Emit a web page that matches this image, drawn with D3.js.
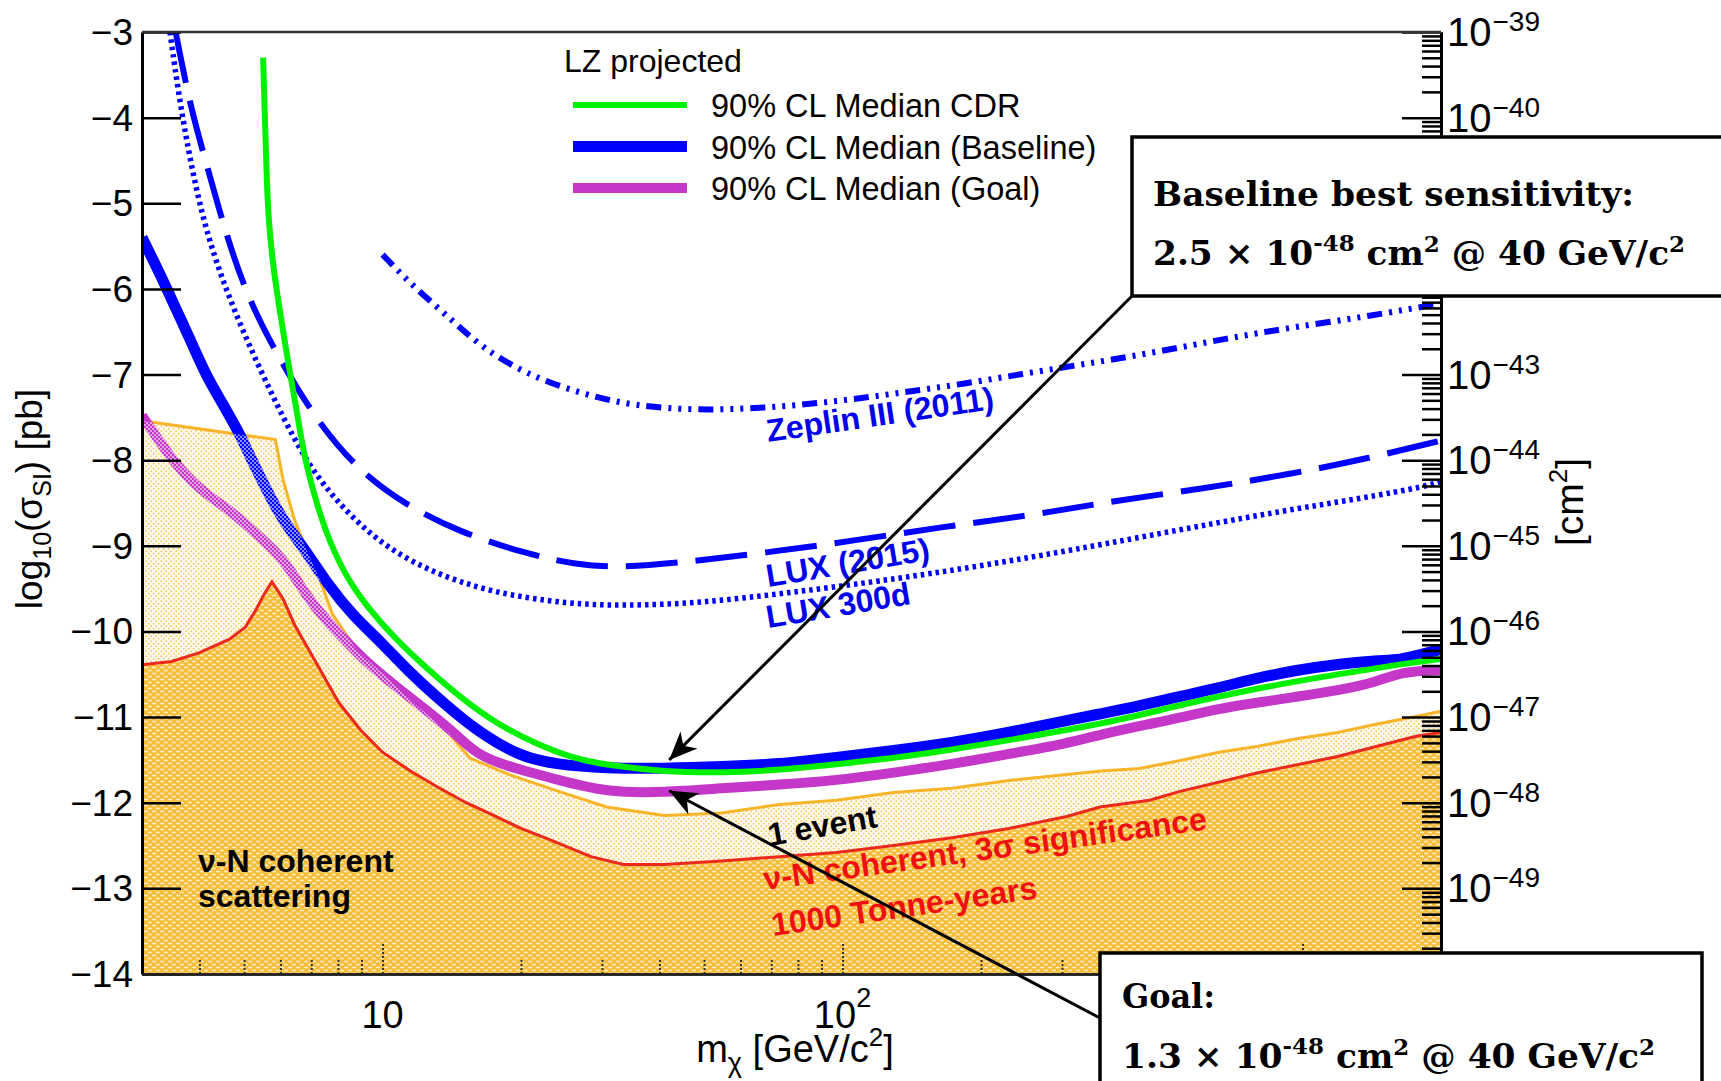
<!DOCTYPE html>
<html>
<head>
<meta charset="utf-8">
<script src="https://cdn.jsdelivr.net/npm/d3@7"></script>
<style>
  body { margin: 0; background: #fff; }
  text { font-family: "Liberation Sans", Arial, Helvetica, sans-serif; }
</style>
</head>
<body>
<svg id="svg" width="1721" height="1081"></svg>
<script>
// masses in GeV/c^2, cross sections as log10(sigma / pb)
var cdrCurve = [[5.5,-3.3],[5.55,-4.0],[5.6,-4.7],[5.65,-5.2],[5.8,-5.8],[6.0,-6.3],[6.25,-6.9],[6.5,-7.4],[6.75,-7.95],[7.1,-8.4],[7.5,-8.82],[8.2,-9.3],[9.2,-9.7],[10.8,-10.12],[12.6,-10.45],[14.6,-10.75],[17.7,-11.08],[21.5,-11.31],[25.9,-11.48],[30.7,-11.56],[41,-11.64],[55,-11.65],[73,-11.62],[97,-11.55],[129,-11.48],[173,-11.38],[230,-11.27],[307,-11.15],[370,-11.07],[465,-10.95],[540,-10.86],[800,-10.66],[1190,-10.5],[1640,-10.38],[2000,-10.32]];

var baselineCurve = [[3.0,-5.4],[3.3,-5.85],[3.56,-6.24],[3.84,-6.62],[4.14,-7.02],[4.56,-7.4],[4.9,-7.7],[5.2,-8.0],[5.6,-8.35],[6.1,-8.72],[6.8,-9.05],[7.6,-9.45],[8.6,-9.81],[10,-10.14],[11.6,-10.51],[13.6,-10.84],[16.1,-11.17],[19.9,-11.46],[23.6,-11.55],[30.7,-11.6],[41,-11.6],[54.6,-11.58],[72.8,-11.55],[97,-11.47],[129,-11.39],[173,-11.3],[230,-11.18],[307,-11.04],[365,-10.96],[442,-10.87],[539,-10.76],[658,-10.66],[800,-10.54],[977,-10.45],[1192,-10.38],[1452,-10.34],[1638,-10.33],[1775,-10.28],[2000,-10.21]];

var goalCurve = [[3.0,-7.48],[3.29,-7.8],[3.69,-8.16],[4.14,-8.4],[4.65,-8.58],[5.22,-8.82],[5.85,-9.06],[6.33,-9.29],[6.81,-9.57],[7.51,-9.86],[8.26,-10.09],[9.26,-10.37],[10.8,-10.66],[12.6,-10.94],[14.6,-11.22],[16.1,-11.45],[19.4,-11.6],[23.6,-11.72],[30.7,-11.88],[41,-11.88],[54.6,-11.83],[72.8,-11.79],[97,-11.74],[129,-11.65],[173,-11.55],[230,-11.43],[307,-11.31],[365,-11.2],[465,-11.08],[539,-11.01],[658,-10.9],[800,-10.83],[977,-10.76],[1192,-10.69],[1452,-10.59],[1638,-10.47],[2000,-10.45]];

var oneEventTop = [[3.0,-7.54],[5.85,-7.76],[6.08,-8.23],[6.44,-8.7],[6.81,-9.03],[7.33,-9.41],[7.77,-9.79],[8.76,-10.21],[10.0,-10.49],[11.9,-10.87],[14.0,-11.2],[15.5,-11.48],[18.8,-11.67],[23.6,-11.85],[30.7,-12.05],[41,-12.15],[54.6,-12.12],[72.8,-12.02],[97,-11.97],[129,-11.88],[173,-11.83],[230,-11.74],[307,-11.67],[365,-11.63],[442,-11.6],[539,-11.51],[658,-11.41],[800,-11.34],[977,-11.25],[1192,-11.18],[1452,-11.08],[1775,-10.99],[2000,-10.93]];

var nuFloor = [[3.0,-10.39],[3.48,-10.35],[3.99,-10.25],[4.65,-10.09],[5.03,-9.95],[5.29,-9.76],[5.55,-9.55],[5.75,-9.42],[6.08,-9.62],[6.45,-9.93],[7.2,-10.38],[8.03,-10.83],[8.96,-11.15],[10,-11.41],[11.5,-11.63],[13.2,-11.82],[15.2,-12.0],[17.3,-12.14],[20,-12.3],[22.8,-12.42],[28.4,-12.63],[33.4,-12.72],[41,-12.72],[54.6,-12.68],[72.8,-12.63],[97,-12.58],[129,-12.5],[173,-12.41],[230,-12.3],[307,-12.16],[363,-12.05],[465,-11.97],[539,-11.87],[800,-11.65],[1192,-11.46],[1452,-11.34],[1775,-11.22],[2000,-11.18]];

var lux2015 = [[3.55,-3.0],[3.83,-3.9],[4.16,-4.57],[4.56,-5.35],[5.11,-6.13],[6.08,-6.9],[7.33,-7.6],[8.96,-8.14],[11.2,-8.52],[14.7,-8.84],[20.4,-9.09],[26.8,-9.23],[32.9,-9.25],[44,-9.2],[68,-9.08],[106,-8.94],[164,-8.78],[254,-8.65],[363,-8.5],[611,-8.33],[946,-8.16],[1389,-7.98],[2000,-7.77]];

var lux300d = [[3.45,-3.0],[3.62,-3.8],[3.84,-4.57],[4.14,-5.35],[4.65,-6.13],[5.42,-6.95],[6.4,-7.75],[7.4,-8.3],[9.47,-8.91],[12.45,-9.29],[17.3,-9.55],[25.4,-9.68],[33.4,-9.7],[48.9,-9.67],[75.9,-9.55],[118,-9.42],[204,-9.23],[363,-8.99],[800,-8.64],[1192,-8.49],[1775,-8.33],[2000,-8.25]];

var zeplin2011 = [[10,-5.6],[11.6,-5.96],[14,-6.34],[16.4,-6.68],[20.4,-6.99],[26.8,-7.22],[35.3,-7.37],[49,-7.42],[68,-7.39],[95,-7.32],[131,-7.22],[183,-7.11],[254,-6.98],[353,-6.86],[489,-6.73],[681,-6.58],[946,-6.45],[1389,-6.32],[2000,-6.17]];

var yTicks = [-3,-4,-5,-6,-7,-8,-9,-10,-11,-12,-13,-14];
var cmExponents = [-39,-40,-41,-42,-43,-44,-45,-46,-47,-48,-49,-50];
var cmLabelled = [-39,-40,-43,-44,-45,-46,-47,-48,-49];   // the rest sit under the boxes
var xTicks = [10, 100, 1000];
var xLabelled = [10, 100];
var xTickExp = ["", "2"];

var legendLabels = ["90% CL Median CDR", "90% CL Median (Baseline)", "90% CL Median (Goal)"];
var legendColors = ["#00f000", "#0000ff", "#c537c8"];
var legendWidths = [6, 11, 10];

var baselineTip = [42, -11.5];
var goalTip = [42, -11.86];

var svg = d3.select("#svg");
var x = d3.scaleLog().domain([3, 2000]).range([142, 1441]);
var y = d3.scaleLinear().domain([-14, -3]).range([974, 32]);
var yCm = d3.scaleLog().domain([1e-50, 1e-39]).range([974, 32]);

var defs = svg.append("defs");
defs.append("clipPath").attr("id", "plotClip").append("rect")
  .attr("x", 142).attr("y", 32).attr("width", 1299).attr("height", 942);

var pl = defs.append("pattern").attr("id", "lightFill").attr("patternUnits", "userSpaceOnUse")
  .attr("width", 5).attr("height", 5);
pl.append("rect").attr("width", 5).attr("height", 5).attr("fill", "#fffaf0");
pl.append("circle").attr("cx", 1.2).attr("cy", 1.2).attr("r", 0.85).attr("fill", "#f7c552");
pl.append("circle").attr("cx", 3.7).attr("cy", 3.7).attr("r", 0.85).attr("fill", "#f7c552");

var pd = defs.append("pattern").attr("id", "darkFill").attr("patternUnits", "userSpaceOnUse")
  .attr("width", 8).attr("height", 6);
pd.append("rect").attr("width", 8).attr("height", 6).attr("fill", "#f5bd38");
pd.append("ellipse").attr("cx", 2).attr("cy", 1.5).attr("rx", 2.3).attr("ry", 0.9).attr("fill", "#fff").attr("opacity", 0.7);
pd.append("ellipse").attr("cx", 6).attr("cy", 4.5).attr("rx", 2.3).attr("ry", 0.9).attr("fill", "#fff").attr("opacity", 0.7);

var pw = defs.append("pattern").attr("id", "whiteDots").attr("patternUnits", "userSpaceOnUse")
  .attr("width", 4).attr("height", 4);
pw.append("circle").attr("cx", 1).attr("cy", 1).attr("r", 0.9).attr("fill", "#fff").attr("opacity", 0.8);
pw.append("circle").attr("cx", 3).attr("cy", 3).attr("r", 0.9).attr("fill", "#fff").attr("opacity", 0.8);

defs.append("marker").attr("id", "arrow").attr("markerUnits", "userSpaceOnUse")
  .attr("viewBox", "-30 -15 32 30").attr("refX", 0).attr("refY", 0)
  .attr("markerWidth", 32).attr("markerHeight", 30).attr("orient", "auto")
  .append("path").attr("d", "M0,0 L-28,-12 L-20,0 L-28,12 Z").attr("fill", "#000");

var line = d3.line().x(function(d) { return x(d[0]); }).y(function(d) { return y(d[1]); });
var smooth = d3.line().x(function(d) { return x(d[0]); }).y(function(d) { return y(d[1]); })
  .curve(d3.curveBasis);

var band = oneEventTop.concat(nuFloor.slice().reverse());
defs.append("clipPath").attr("id", "bandClip").append("path").attr("d", line(band) + "Z");

var plot = svg.append("g").attr("clip-path", "url(#plotClip)");

// regions
plot.append("path").attr("d", line(oneEventTop.concat([[2000, -14], [3, -14]])) + "Z")
  .attr("fill", "url(#lightFill)");
plot.append("path").attr("d", line(nuFloor.concat([[2000, -14], [3, -14]])) + "Z")
  .attr("fill", "url(#darkFill)");
plot.append("path").attr("d", line(oneEventTop)).attr("fill", "none")
  .attr("stroke", "#f8b52a").attr("stroke-width", 3);
plot.append("path").attr("d", line(nuFloor)).attr("fill", "none")
  .attr("stroke", "#ec2a1c").attr("stroke-width", 3);

// previous results
plot.append("path").attr("d", smooth(lux2015)).attr("fill", "none")
  .attr("stroke", "#0000ff").attr("stroke-width", 6).attr("stroke-dasharray", "52,18");
plot.append("path").attr("d", smooth(lux300d)).attr("fill", "none")
  .attr("stroke", "#0000ff").attr("stroke-width", 5.5).attr("stroke-dasharray", "3.5,4");
plot.append("path").attr("d", smooth(zeplin2011)).attr("fill", "none")
  .attr("stroke", "#0000ff").attr("stroke-width", 6).attr("stroke-dasharray", "15,7,3,7,3,7,3,7");

// LZ projections
plot.append("path").attr("d", smooth(goalCurve)).attr("fill", "none")
  .attr("stroke", legendColors[2]).attr("stroke-width", legendWidths[2]);
plot.append("path").attr("d", smooth(baselineCurve)).attr("fill", "none")
  .attr("stroke", legendColors[1]).attr("stroke-width", legendWidths[1]);
plot.append("path").attr("d", smooth(cdrCurve)).attr("fill", "none")
  .attr("stroke", legendColors[0]).attr("stroke-width", legendWidths[0]);

var hatch = plot.append("g").attr("clip-path", "url(#bandClip)");
[goalCurve, baselineCurve].forEach(function(c, i) {
  hatch.append("path").attr("d", smooth(c)).attr("fill", "none")
    .attr("stroke", "url(#whiteDots)").attr("stroke-width", legendWidths[2 - i]);
});

// axes
var left = svg.append("g").attr("transform", "translate(142,0)");
left.call(d3.axisRight(y).tickValues(d3.range(0, 56).map(function(i) { return -14 + i * 0.2; }))
  .tickSize(20).tickSizeOuter(0).tickFormat(""));
left.call(d3.axisRight(y).tickValues(yTicks).tickSize(39).tickSizeOuter(0).tickFormat(""));
left.selectAll("line").attr("stroke", "#000").attr("stroke-width", 2.5);
left.selectAll(".domain").attr("stroke", "#000").attr("stroke-width", 3);

var minorCm = [];
cmExponents.slice(1).forEach(function(e) {
  for (var k = 2; k <= 9; k++) minorCm.push(k * Math.pow(10, e));
});
var right = svg.append("g").attr("transform", "translate(1441,0)");
right.append("g").call(d3.axisLeft(yCm).tickValues(minorCm).tickSize(19).tickSizeOuter(0).tickFormat(""));
right.append("g").call(d3.axisLeft(yCm).tickValues(cmExponents.map(function(e) { return Math.pow(10, e); }))
  .tickSize(39).tickSizeOuter(0).tickFormat(""));
right.selectAll("line").attr("stroke", "#000").attr("stroke-width", 2.5);
right.selectAll(".domain").attr("stroke", "#000").attr("stroke-width", 3);

var minorX = [4,5,6,7,8,9,20,30,40,50,60,70,80,90,200,300,400,500,600,700,800,900,2000];
var bottom = svg.append("g").attr("transform", "translate(0,974)");
bottom.append("g").call(d3.axisTop(x).tickValues(minorX).tickSize(14).tickSizeOuter(0).tickFormat(""));
bottom.append("g").call(d3.axisTop(x).tickValues(xTicks).tickSize(30).tickSizeOuter(0).tickFormat(""));
bottom.selectAll("line").attr("stroke", "#333").attr("stroke-width", 2).attr("stroke-dasharray", "2,2");
bottom.selectAll(".domain").attr("stroke", "#222").attr("stroke-width", 2.5);

svg.append("line").attr("x1", 142).attr("x2", 1441).attr("y1", 32).attr("y2", 32)
  .attr("stroke", "#333").attr("stroke-width", 2.5);

// tick labels
svg.selectAll(".ylab").data(yTicks).enter().append("text")
  .attr("x", 133).attr("y", function(d) { return y(d) + 13; })
  .attr("text-anchor", "end").attr("font-size", 37)
  .text(function(d) { return "\u2212" + Math.abs(d); });

cmLabelled.forEach(function(e) {
  var t = svg.append("text").attr("x", 1447).attr("y", yCm(Math.pow(10, e)) + 14).attr("font-size", 40);
  t.append("tspan").text("10");
  t.append("tspan").attr("font-size", 28).attr("dy", -15).attr("dx", 1).text("\u2212" + Math.abs(e));
});

xLabelled.forEach(function(v, i) {
  var t = svg.append("text").attr("x", x(v)).attr("y", 1028).attr("text-anchor", "middle").attr("font-size", 38);
  t.append("tspan").text("10");
  if (xTickExp[i]) t.append("tspan").attr("font-size", 27).attr("dy", -21).text(xTickExp[i]);
});

// axis titles
var yt = svg.append("text").attr("transform", "translate(42,499) rotate(-90)")
  .attr("text-anchor", "middle").attr("font-size", 37);
yt.append("tspan").text("log");
yt.append("tspan").attr("font-size", 25).attr("dy", 9).text("10");
yt.append("tspan").attr("dy", -9).text("(\u03c3");
yt.append("tspan").attr("font-size", 25).attr("dy", 9).text("SI");
yt.append("tspan").attr("dy", -9).text(") [pb]");

var xt = svg.append("text").attr("x", 795).attr("y", 1062)
  .attr("text-anchor", "middle").attr("font-size", 38);
xt.append("tspan").text("m");
xt.append("tspan").attr("font-size", 27).attr("dy", 10).text("\u03c7");
xt.append("tspan").attr("dy", -10).text(" [GeV/c");
xt.append("tspan").attr("font-size", 26).attr("dy", -16).text("2");
xt.append("tspan").attr("dy", 16).text("]");

var rt = svg.append("text").attr("transform", "translate(1583,502) rotate(-90)")
  .attr("text-anchor", "middle").attr("font-size", 39);
rt.append("tspan").text("[cm");
rt.append("tspan").attr("font-size", 26).attr("dy", -16).text("2");
rt.append("tspan").attr("dy", 16).text("]");

// curve labels
function label(txt, px, py, angle, color) {
  svg.append("text").attr("transform", "translate(" + px + "," + py + ") rotate(" + angle + ")")
    .attr("font-size", 32).attr("font-weight", "bold").attr("fill", color).text(txt);
}
label("Zeplin III (2011)", 768, 442, -8.3, "#0000ee");
label("LUX (2015)", 768, 587, -9.5, "#0000ee");
label("LUX 300d", 768, 628, -9.5, "#0000ee");
label("1 event", 770, 846, -10, "#000");
label("\u03bd-N coherent, 3\u03c3 significance", 765, 890, -7.8, "#f01010");
label("1000 Tonne-years", 773, 936, -8.1, "#f01010");
label("\u03bd-N coherent", 198, 872, 0, "#000");
label("scattering", 198, 907, 0, "#000");

// legend
svg.append("text").attr("x", 564).attr("y", 72).attr("font-size", 32).text("LZ projected");
var leg = svg.selectAll(".leg").data(legendLabels).enter().append("g")
  .attr("transform", function(d, i) { return "translate(0," + (105 + i * 41.5) + ")"; });
leg.append("line").attr("x1", 573).attr("x2", 687).attr("y1", 0).attr("y2", 0)
  .attr("stroke", function(d, i) { return legendColors[i]; })
  .attr("stroke-width", function(d, i) { return legendWidths[i]; });
leg.append("text").attr("x", 711).attr("y", 12).attr("font-size", 32.5).text(function(d) { return d; });

// annotation arrows and boxes
svg.append("line").attr("x1", 1132).attr("y1", 296)
  .attr("x2", x(baselineTip[0])).attr("y2", y(baselineTip[1]))
  .attr("stroke", "#000").attr("stroke-width", 3).attr("marker-end", "url(#arrow)");
svg.append("line").attr("x1", 1100).attr("y1", 1018)
  .attr("x2", x(goalTip[0])).attr("y2", y(goalTip[1]))
  .attr("stroke", "#000").attr("stroke-width", 3).attr("marker-end", "url(#arrow)");

svg.append("rect").attr("x", 1132).attr("y", 137).attr("width", 620).attr("height", 159)
  .attr("fill", "#fff").attr("stroke", "#000").attr("stroke-width", 3.5);
svg.append("rect").attr("x", 1100).attr("y", 953).attr("width", 602).attr("height", 200)
  .attr("fill", "#fff").attr("stroke", "#000").attr("stroke-width", 3.5);

function boxText(px, py, width, parts) {
  var t = svg.append("text").attr("x", px).attr("y", py)
    .style("font-family", "'DejaVu Serif', 'Liberation Serif', serif")
    .attr("font-weight", "bold").attr("font-size", 33)
    .attr("textLength", width).attr("lengthAdjust", "spacingAndGlyphs");
  parts.forEach(function(p) {
    t.append("tspan").attr("dy", p[1]).attr("font-size", p[2]).text(p[0]);
  });
}
function valueLine(v) {
  return [[v + " \u00d7 10", 0, 33], ["-48", -14, 22], [" cm", 14, 33], ["2", -13, 22],
          [" @ 40 GeV/c", 13, 33], ["2", -13, 22]];
}
boxText(1153, 206, 481, [["Baseline best sensitivity:", 0, 33]]);
boxText(1153, 265, 532, valueLine("2.5"));
boxText(1122, 1008, 93, [["Goal:", 0, 33]]);
boxText(1122, 1068, 533, valueLine("1.3"));
</script>
</body>
</html>
